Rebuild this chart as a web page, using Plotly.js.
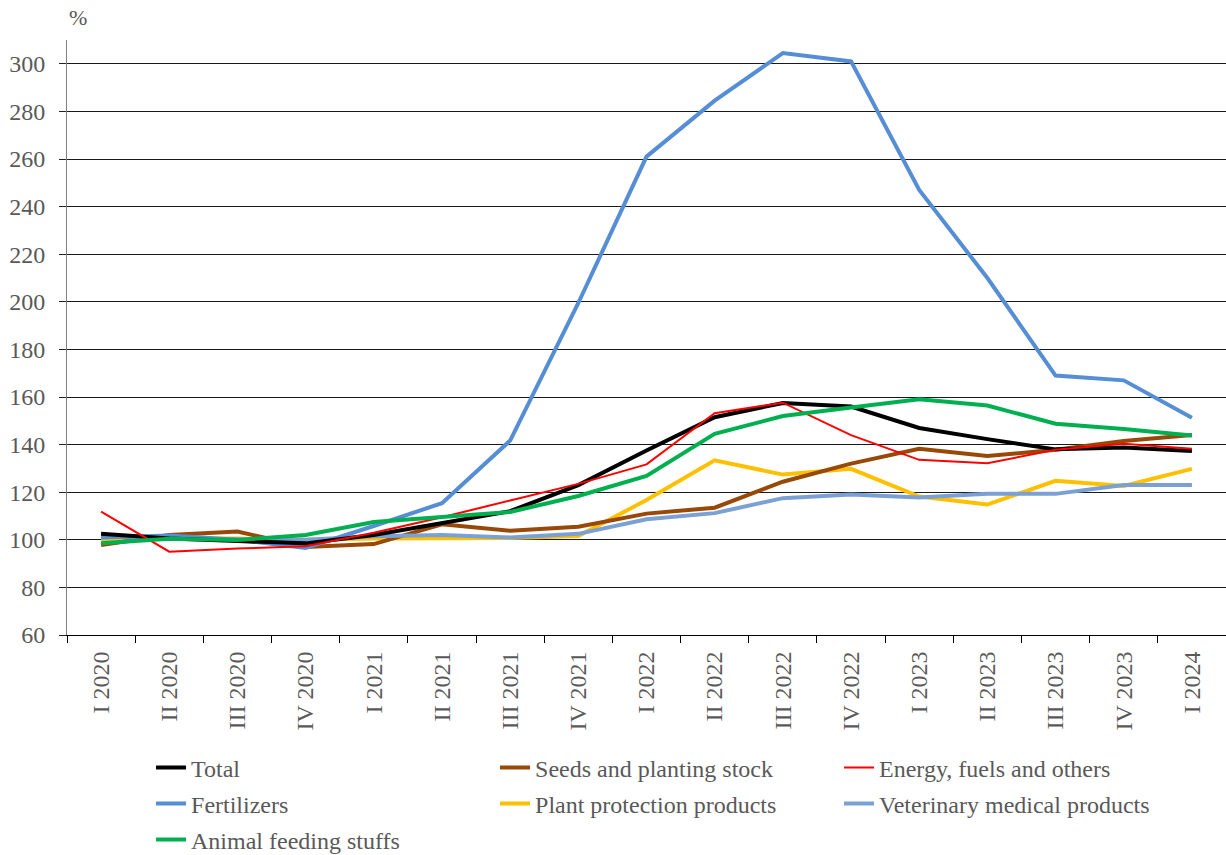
<!DOCTYPE html>
<html>
<head>
<meta charset="utf-8">
<script src="https://cdn.plot.ly/plotly-3.0.1.min.js"></script>
<style>html,body{margin:0;padding:0;background:#fff;}#chart{width:1226px;height:855px;}</style>
</head>
<body>
<div id="chart"></div>
<script>
const quarters = ["I 2020","II 2020","III 2020","IV 2020","I 2021","II 2021","III 2021","IV 2021","I 2022","II 2022","III 2022","IV 2022","I 2023","II 2023","III 2023","IV 2023","I 2024"];
const total       = [102.5,100.5,99.5,98.5,102,107,112,123,137.5,151.5,157.5,156,147,142.3,138,138.8,137.3];
const seeds       = [97.8,102,103.5,97,98.2,106.5,103.8,105.5,111,113.5,124.4,132,138.2,135.2,137.8,141.5,144];
const energy      = [111.8,95,96.3,97.3,103,109.5,116.5,123.5,131.7,153.2,157.6,144,133.6,132.2,137.8,140.4,138.3];
const fertilizers = [101,101.8,100,96.6,105.8,115.4,141.7,199.5,261,284.5,304.5,301,247,210,169,167,151.3];
const plantProt   = [100,100.5,100.5,100,100.5,100.5,100.8,101.6,116.7,133.4,127.4,129.8,118.2,114.8,124.8,122.6,129.8];
const veterinary  = [101.5,100.5,100.2,100,101.5,102,101,102.5,108.6,111.2,117.5,119,117.8,119.4,119.3,123,123];
const feeding     = [98.6,100.4,99.9,102,107.5,109.6,111.7,118.4,126.8,144.5,152,155.6,159.1,156.4,148.8,146.6,143.8];

const seriesNames = ["Total","Seeds and planting stock","Energy, fuels and others","Fertilizers","Plant protection products","Veterinary medical products","Animal feeding stuffs"];
const seriesData  = [total, seeds, energy, fertilizers, plantProt, veterinary, feeding];
const seriesColors = ["#000000","#984807","#FF0000","#558ED5","#FFC000","#7BA0D4","#00B050"];
const seriesWidths = [4,4,2,4,4,4,4];
const seriesLegend = ["legend","legend","legend","legend2","legend2","legend2","legend3"];
const drawOrder = [4,1,5,3,0,2,6];

const FONT = "Liberation Serif";
const TXT = "#595959";

const traces = seriesNames.map((n,i)=>({
  type:"scatter", mode:"lines", name:n, x:quarters, y:seriesData[i],
  line:{color:seriesColors[i], width:seriesWidths[i]},
  legend:seriesLegend[i], legendrank:i+1, hoverinfo:"x+y+name"
}));
const ordered = drawOrder.map(i=>traces[i]);

const legendBase = {orientation:"h", xanchor:"left", yanchor:"middle", x:0.0725,
  font:{family:FONT, size:24, color:TXT}, entrywidth:299, entrywidthmode:"pixels",
  bgcolor:"rgba(0,0,0,0)", traceorder:"normal"};

const layout = {
  width:1226, height:855,
  margin:{l:67, r:0, t:40, b:220, autoexpand:false},
  paper_bgcolor:"#ffffff", plot_bgcolor:"#ffffff",
  font:{family:FONT, size:24, color:TXT},
  showlegend:true,
  xaxis:{type:"category", range:[-0.5,16.5], tickson:"boundaries", ticks:"outside", ticklen:7,
    tickcolor:"#000", showline:true, linecolor:"#000", linewidth:1, showgrid:false,
    tickangle:-90, ticklabelstandoff:6, tickfont:{family:FONT,size:24,color:TXT}, fixedrange:true},
  yaxis:{range:[60,310], tick0:60, dtick:20, ticks:"outside", ticklen:7, tickcolor:"#222",
    showline:true, linecolor:"#808080", linewidth:1, showgrid:true, gridcolor:"#1a1a1a", gridwidth:1,
    zeroline:false, ticklabelstandoff:9, tickfont:{family:FONT,size:24,color:TXT}, fixedrange:true},
  legend: Object.assign({}, legendBase, {y:(635-768)/595}),
  legend2: Object.assign({}, legendBase, {y:(635-804)/595}),
  legend3: Object.assign({}, legendBase, {y:(635-840)/595}),
  annotations:[{text:"%", xref:"paper", yref:"paper", x:0, y:1, xanchor:"left", yanchor:"bottom",
    yshift:8, showarrow:false, font:{family:FONT, size:22, color:TXT}}]
};

Plotly.newPlot("chart", ordered, layout, {displayModeBar:false, staticPlot:true});
</script>
</body>
</html>
